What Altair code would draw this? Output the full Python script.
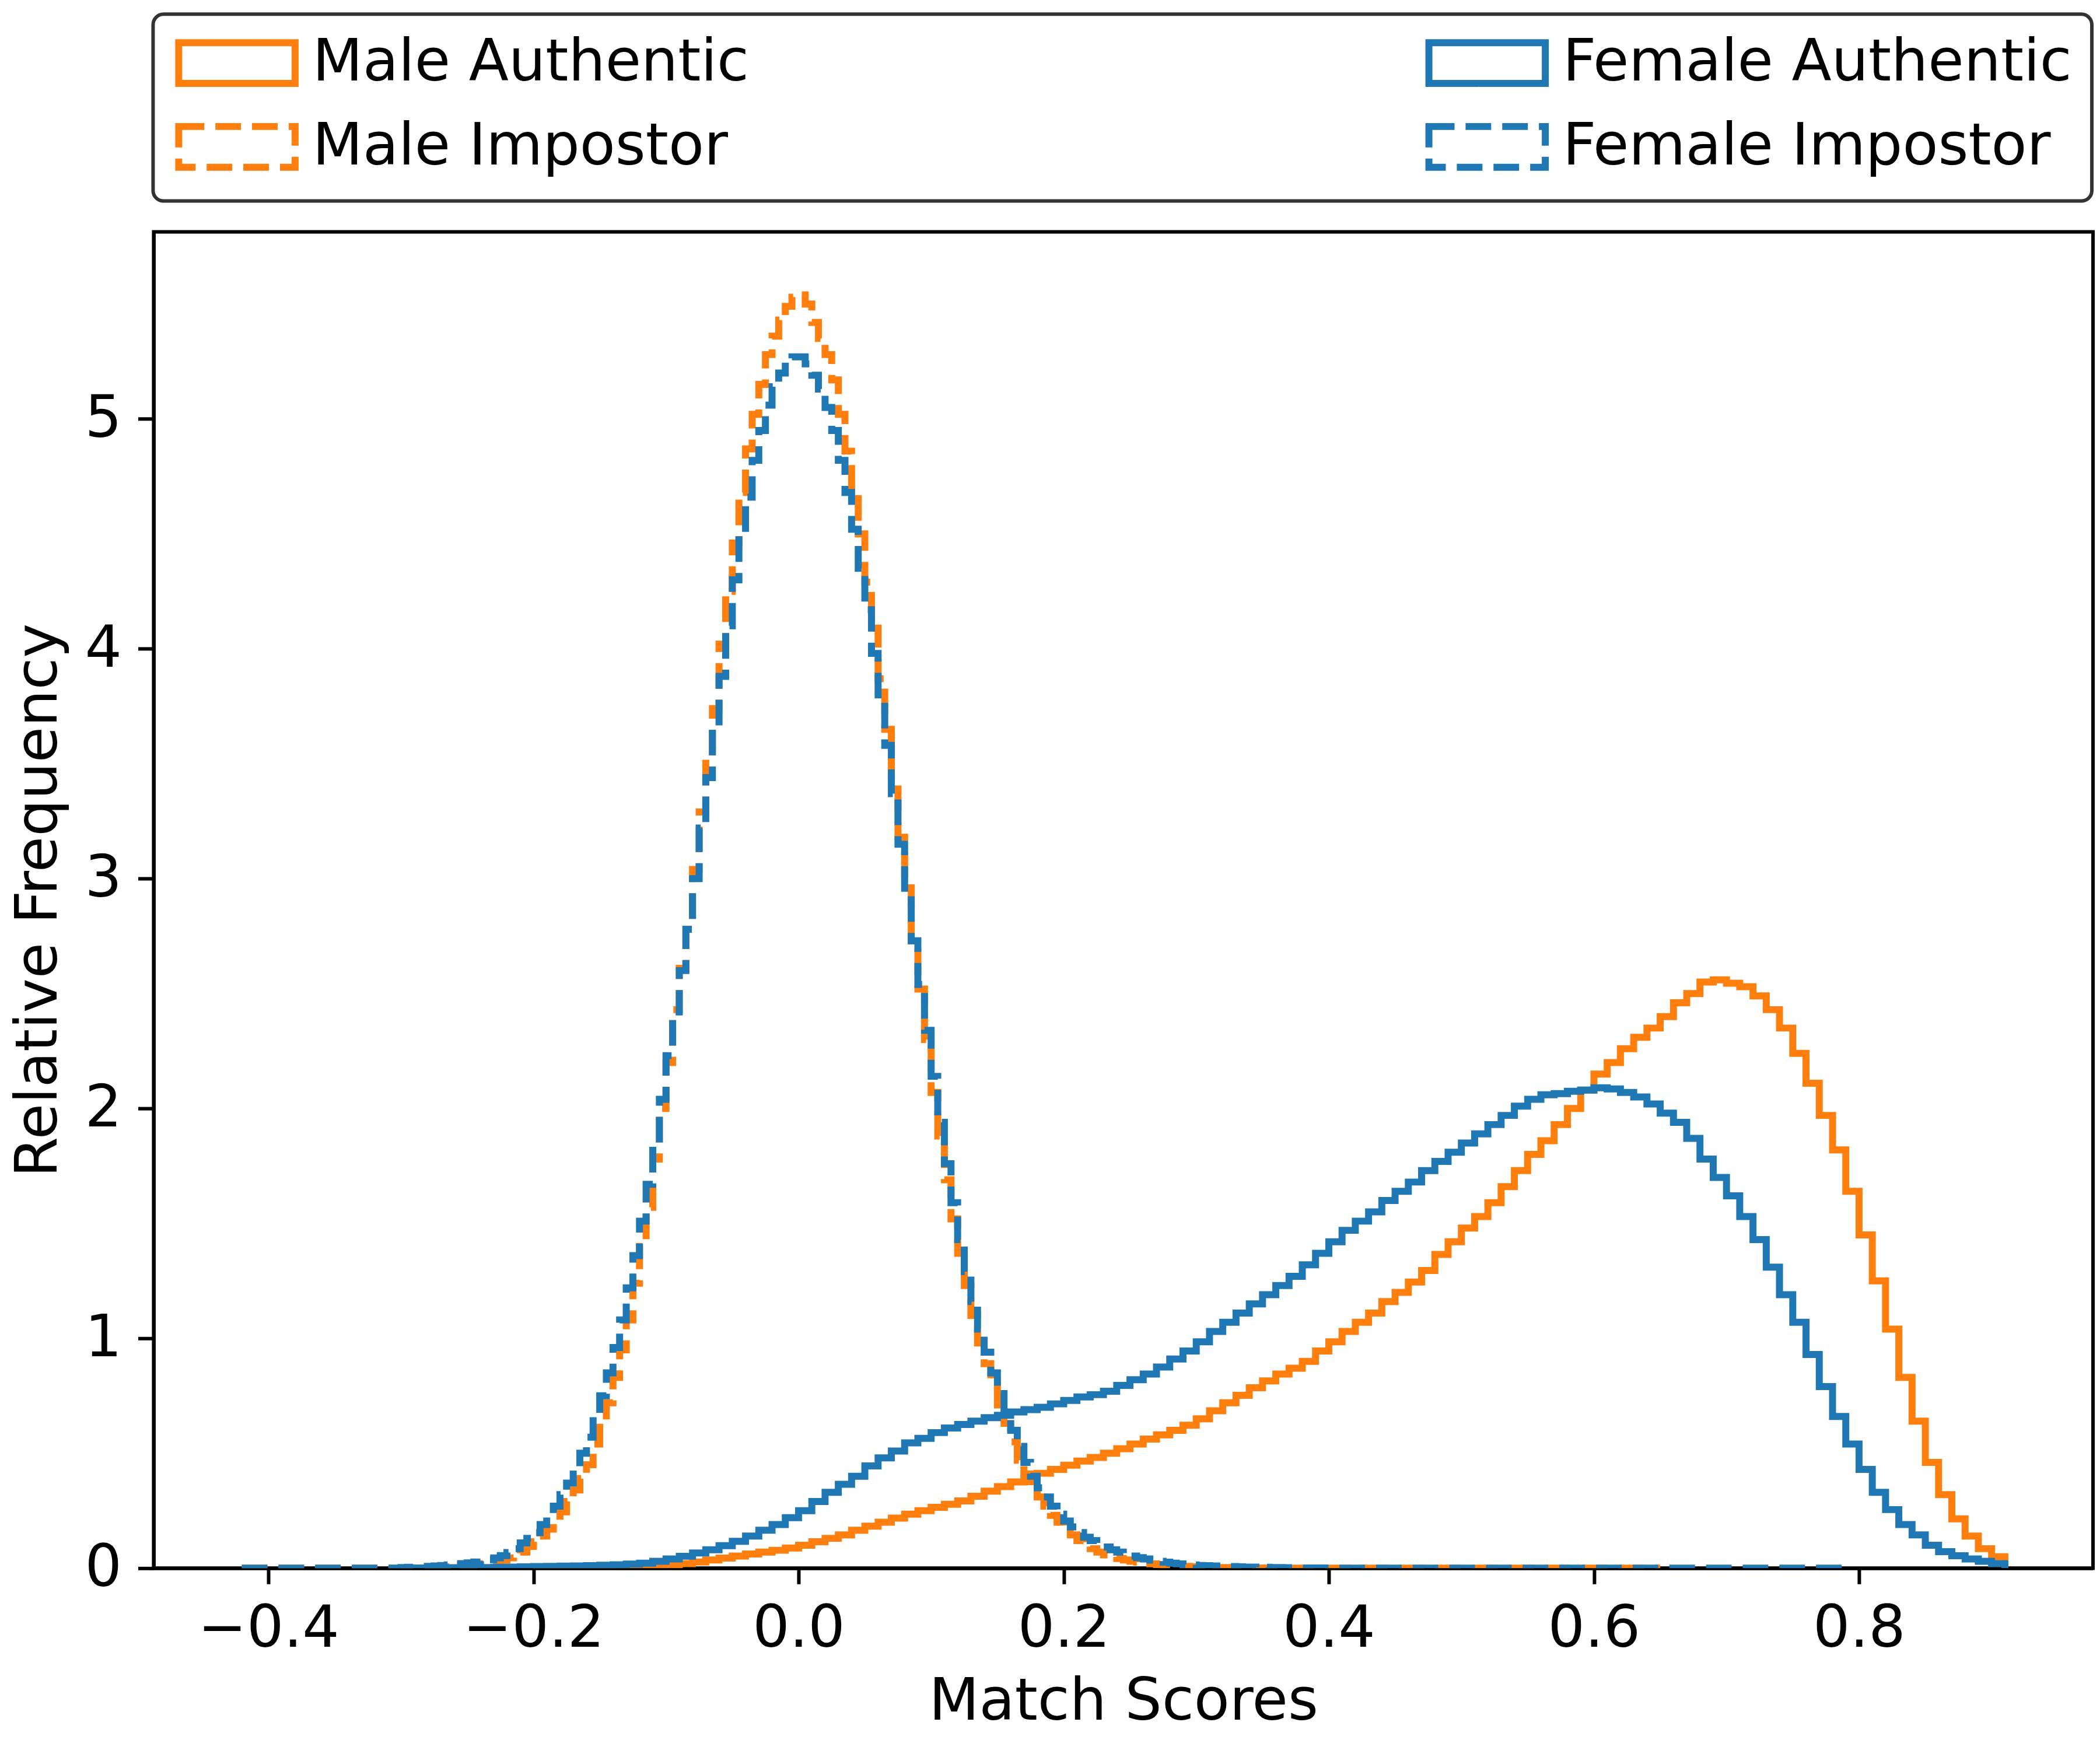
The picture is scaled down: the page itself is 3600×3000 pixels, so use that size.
import altair as alt
import pandas as pd

# ---------------- data ----------------
SERIES = ["Male Authentic", "Male Impostor", "Female Authentic", "Female Impostor"]
COLORS = ["#ff7f0e", "#ff7f0e", "#1f77b4", "#1f77b4"]

# Male Authentic: bins of 0.01, first edge -0.20
male_auth_start, male_auth_w = -0.20, 0.01
male_auth = [
    0.001, 0.001, 0.002, 0.002, 0.003, 0.004, 0.005, 0.007, 0.009, 0.011,
    0.014, 0.020, 0.027, 0.036, 0.044, 0.053, 0.062, 0.070, 0.078, 0.088,
    0.100, 0.115, 0.130, 0.145, 0.165, 0.183, 0.200, 0.218, 0.235, 0.250,
    0.265, 0.278, 0.293, 0.313, 0.335, 0.355, 0.375, 0.395, 0.413, 0.430,
    0.448, 0.466, 0.482, 0.500, 0.520, 0.540, 0.562, 0.580, 0.600, 0.622,
    0.650, 0.685, 0.720, 0.752, 0.785, 0.815, 0.845, 0.870, 0.900, 0.945,
    0.985, 1.030, 1.070, 1.110, 1.160, 1.200, 1.245, 1.295, 1.365, 1.420,
    1.480, 1.530, 1.590, 1.660, 1.730, 1.800, 1.860, 1.930, 2.000, 2.080,
    2.150, 2.200, 2.260, 2.310, 2.350, 2.400, 2.460, 2.500, 2.550, 2.560,
    2.545, 2.530, 2.490, 2.430, 2.350, 2.240, 2.110, 1.970, 1.820, 1.640,
    1.450, 1.250, 1.040, 0.830, 0.640, 0.460, 0.320, 0.215, 0.140, 0.085,
    0.050,
]

# Female Authentic: bins of 0.01, first edge -0.30
female_auth_start, female_auth_w = -0.30, 0.01
female_auth = [
    0.001, 0.001, 0.001, 0.002, 0.002, 0.003, 0.003, 0.004, 0.005, 0.006,
    0.007, 0.008, 0.009, 0.010, 0.011, 0.013, 0.015, 0.018, 0.022, 0.030,
    0.040, 0.052, 0.066, 0.080, 0.098, 0.117, 0.140, 0.165, 0.190, 0.220,
    0.250, 0.290, 0.330, 0.365, 0.400, 0.445, 0.480, 0.510, 0.545, 0.565,
    0.590, 0.610, 0.625, 0.640, 0.655, 0.665, 0.680, 0.690, 0.700, 0.715,
    0.730, 0.745, 0.755, 0.770, 0.795, 0.820, 0.845, 0.875, 0.910, 0.945,
    0.985, 1.030, 1.070, 1.110, 1.150, 1.190, 1.230, 1.270, 1.320, 1.370,
    1.420, 1.470, 1.510, 1.550, 1.600, 1.640, 1.680, 1.730, 1.770, 1.810,
    1.850, 1.890, 1.930, 1.970, 2.010, 2.040, 2.060, 2.065, 2.075, 2.080,
    2.090, 2.085, 2.070, 2.050, 2.020, 1.980, 1.940, 1.870, 1.780, 1.700,
    1.620, 1.530, 1.430, 1.310, 1.190, 1.070, 0.930, 0.790, 0.660, 0.540,
    0.430, 0.330, 0.255, 0.190, 0.145, 0.100, 0.072, 0.054, 0.040, 0.030,
    0.020,
]

# Male Impostor: bins of 0.005, first edge -0.42 (zero tails on both sides)
male_imp_start, male_imp_w = -0.42, 0.005
male_imp = [0.0] * 24 + [
    # -0.30 .. -0.25
    0.001, 0.001, 0.002, 0.002, 0.003, 0.004, 0.005, 0.006, 0.008, 0.010,
    # -0.25 .. 0.00
    0.012, 0.016, 0.020, 0.024, 0.028, 0.035, 0.045, 0.055, 0.070, 0.095,
    0.115, 0.140, 0.170, 0.205, 0.245, 0.290, 0.340, 0.390, 0.450, 0.540,
    0.640, 0.720, 0.830, 0.950, 1.080, 1.240, 1.400, 1.570, 1.780, 2.000,
    2.200, 2.430, 2.610, 2.780, 3.040, 3.290, 3.520, 3.740, 4.020, 4.250,
    4.460, 4.680, 4.870, 5.020, 5.150, 5.280, 5.360, 5.430, 5.490, 5.530,
    # 0.00 .. 0.30
    5.540, 5.500, 5.420, 5.350, 5.280, 5.170, 5.020, 4.860, 4.680, 4.500,
    4.290, 4.090, 3.870, 3.650, 3.410, 3.180, 2.960, 2.700, 2.520, 2.300,
    2.070, 1.880, 1.690, 1.520, 1.370, 1.230, 1.100, 0.980, 0.890, 0.800,
    0.710, 0.630, 0.550, 0.470, 0.410, 0.360, 0.310, 0.270, 0.230, 0.200,
    0.170, 0.145, 0.120, 0.100, 0.085, 0.070, 0.058, 0.050, 0.042, 0.036,
    0.030, 0.026, 0.022, 0.019, 0.016, 0.013, 0.011, 0.009, 0.008, 0.006,
    # 0.30 .. 0.35
    0.005, 0.004, 0.004, 0.003, 0.003, 0.002, 0.002, 0.002, 0.001, 0.001,
] + [0.0] * 60

# Female Impostor: bins of 0.005, first edge -0.42 (zero tails on both sides)
female_imp_start, female_imp_w = -0.42, 0.005
female_imp = [0.0] * 24 + [
    # -0.30 .. -0.25
    0.003, 0.004, 0.005, 0.006, 0.008, 0.010, 0.012, 0.014, 0.017, 0.020,
    # -0.25 .. 0.00
    0.023, 0.027, 0.031, 0.037, 0.045, 0.055, 0.068, 0.085, 0.110, 0.130,
    0.155, 0.190, 0.225, 0.270, 0.320, 0.370, 0.430, 0.500, 0.570, 0.660,
    0.750, 0.850, 0.960, 1.080, 1.220, 1.360, 1.510, 1.670, 1.850, 2.040,
    2.230, 2.420, 2.600, 2.780, 3.000, 3.220, 3.440, 3.650, 3.880, 4.100,
    4.300, 4.490, 4.660, 4.820, 4.950, 5.060, 5.140, 5.200, 5.250, 5.270,
    # 0.00 .. 0.30
    5.270, 5.240, 5.190, 5.130, 5.050, 4.950, 4.820, 4.680, 4.520, 4.350,
    4.170, 3.980, 3.780, 3.580, 3.370, 3.150, 2.940, 2.730, 2.540, 2.340,
    2.140, 1.940, 1.760, 1.590, 1.430, 1.290, 1.160, 1.040, 0.940, 0.850,
    0.760, 0.680, 0.600, 0.530, 0.460, 0.400, 0.350, 0.310, 0.270, 0.235,
    0.205, 0.180, 0.155, 0.135, 0.120, 0.105, 0.092, 0.080, 0.070, 0.061,
    0.053, 0.046, 0.040, 0.035, 0.030, 0.026, 0.022, 0.019, 0.016, 0.014,
    # 0.30 .. 0.40
    0.012, 0.011, 0.010, 0.009, 0.008, 0.007, 0.006, 0.005, 0.005, 0.004,
    0.004, 0.003, 0.003, 0.002, 0.002, 0.002, 0.001, 0.001, 0.001, 0.001,
] + [0.0] * 78

X_TICKS = [-0.4, -0.2, 0.0, 0.2, 0.4, 0.6, 0.8]
Y_TICKS = [0, 1, 2, 3, 4, 5]
X_DOMAIN = [-0.4865, 0.9765]
Y_DOMAIN = [0.0, 5.814]

# ---------------- build step outlines (histtype='step') ----------------
rows = []
for name, start, w, vals in [
    ("Male Authentic", male_auth_start, male_auth_w, male_auth),
    ("Male Impostor", male_imp_start, male_imp_w, male_imp),
    ("Female Authentic", female_auth_start, female_auth_w, female_auth),
    ("Female Impostor", female_imp_start, female_imp_w, female_imp),
]:
    edges = [round(start + i * w, 5) for i in range(len(vals) + 1)]
    pts = [(edges[0], 0.0)] + list(zip(edges[:-1], vals)) + [(edges[-1], vals[-1]), (edges[-1], 0.0)]
    for k, (x, y) in enumerate(pts):
        rows.append({"series": name, "x": x, "y": y, "k": k})
df = pd.DataFrame(rows)

FONT = "DejaVu Sans"
DASH = [44, 19]

legend = alt.Legend(
    title=None,
    orient="none",
    legendX=-1,
    legendY=-374,
    columns=2,
    symbolType="M-2.857,-1H2.857V1H-2.857Z",
    symbolSize=4900,
    symbolStrokeWidth=12,
    symbolOffset=60,
    labelFontSize=100,
    labelFont=FONT,
    labelColor="black",
    labelOffset=80,
    labelLimit=3000,
    rowPadding=26,
    columnPadding=1144,
    padding=34,
    strokeColor="#333333",
    fillColor="white",
    cornerRadius=18,
)

chart = (
    alt.Chart(df)
    .mark_line(interpolate="step-after", strokeWidth=12, clip=True)
    .encode(
        x=alt.X(
            "x:Q",
            scale=alt.Scale(domain=X_DOMAIN, nice=False, zero=False),
            axis=alt.Axis(
                values=X_TICKS,
                labelExpr="replace(format(datum.value, '.1f'), '-', '\u2212')",
                title="Match Scores",
                titlePadding=27,
            ),
        ),
        y=alt.Y(
            "y:Q",
            scale=alt.Scale(domain=Y_DOMAIN, nice=False, zero=False),
            axis=alt.Axis(values=Y_TICKS, format="d", title="Relative Frequency", titlePadding=28),
        ),
        color=alt.Color(
            "series:N",
            scale=alt.Scale(domain=SERIES, range=COLORS),
            legend=legend,
        ),
        strokeDash=alt.StrokeDash(
            "series:N",
            scale=alt.Scale(domain=SERIES, range=[[1, 0], DASH, [1, 0], DASH]),
            legend=legend,
        ),
        detail="series:N",
        order=alt.Order("k:Q"),
    )
    .properties(
        width=3332,
        height=2296,
        autosize=alt.AutoSizeParams(type="none"),
        padding={"left": 256, "top": 387, "right": 4, "bottom": 309},
    )
    .configure(font=FONT)
    .configure_view(stroke="black", strokeWidth=6)
    .configure_axis(
        grid=False,
        domainColor="black",
        domainWidth=6,
        tickColor="black",
        tickWidth=6,
        tickSize=27,
        labelFont=FONT,
        labelFontSize=100,
        labelColor="black",
        labelPadding=28,
        labelLimit=1000,
        titleFont=FONT,
        titleFontSize=100,
        titleFontWeight="normal",
        titleColor="black",
        zindex=1,
    )
    .configure_legend(strokeWidth=6)
)

chart.save("out.html", embed_options={"renderer": "svg", "actions": False})
